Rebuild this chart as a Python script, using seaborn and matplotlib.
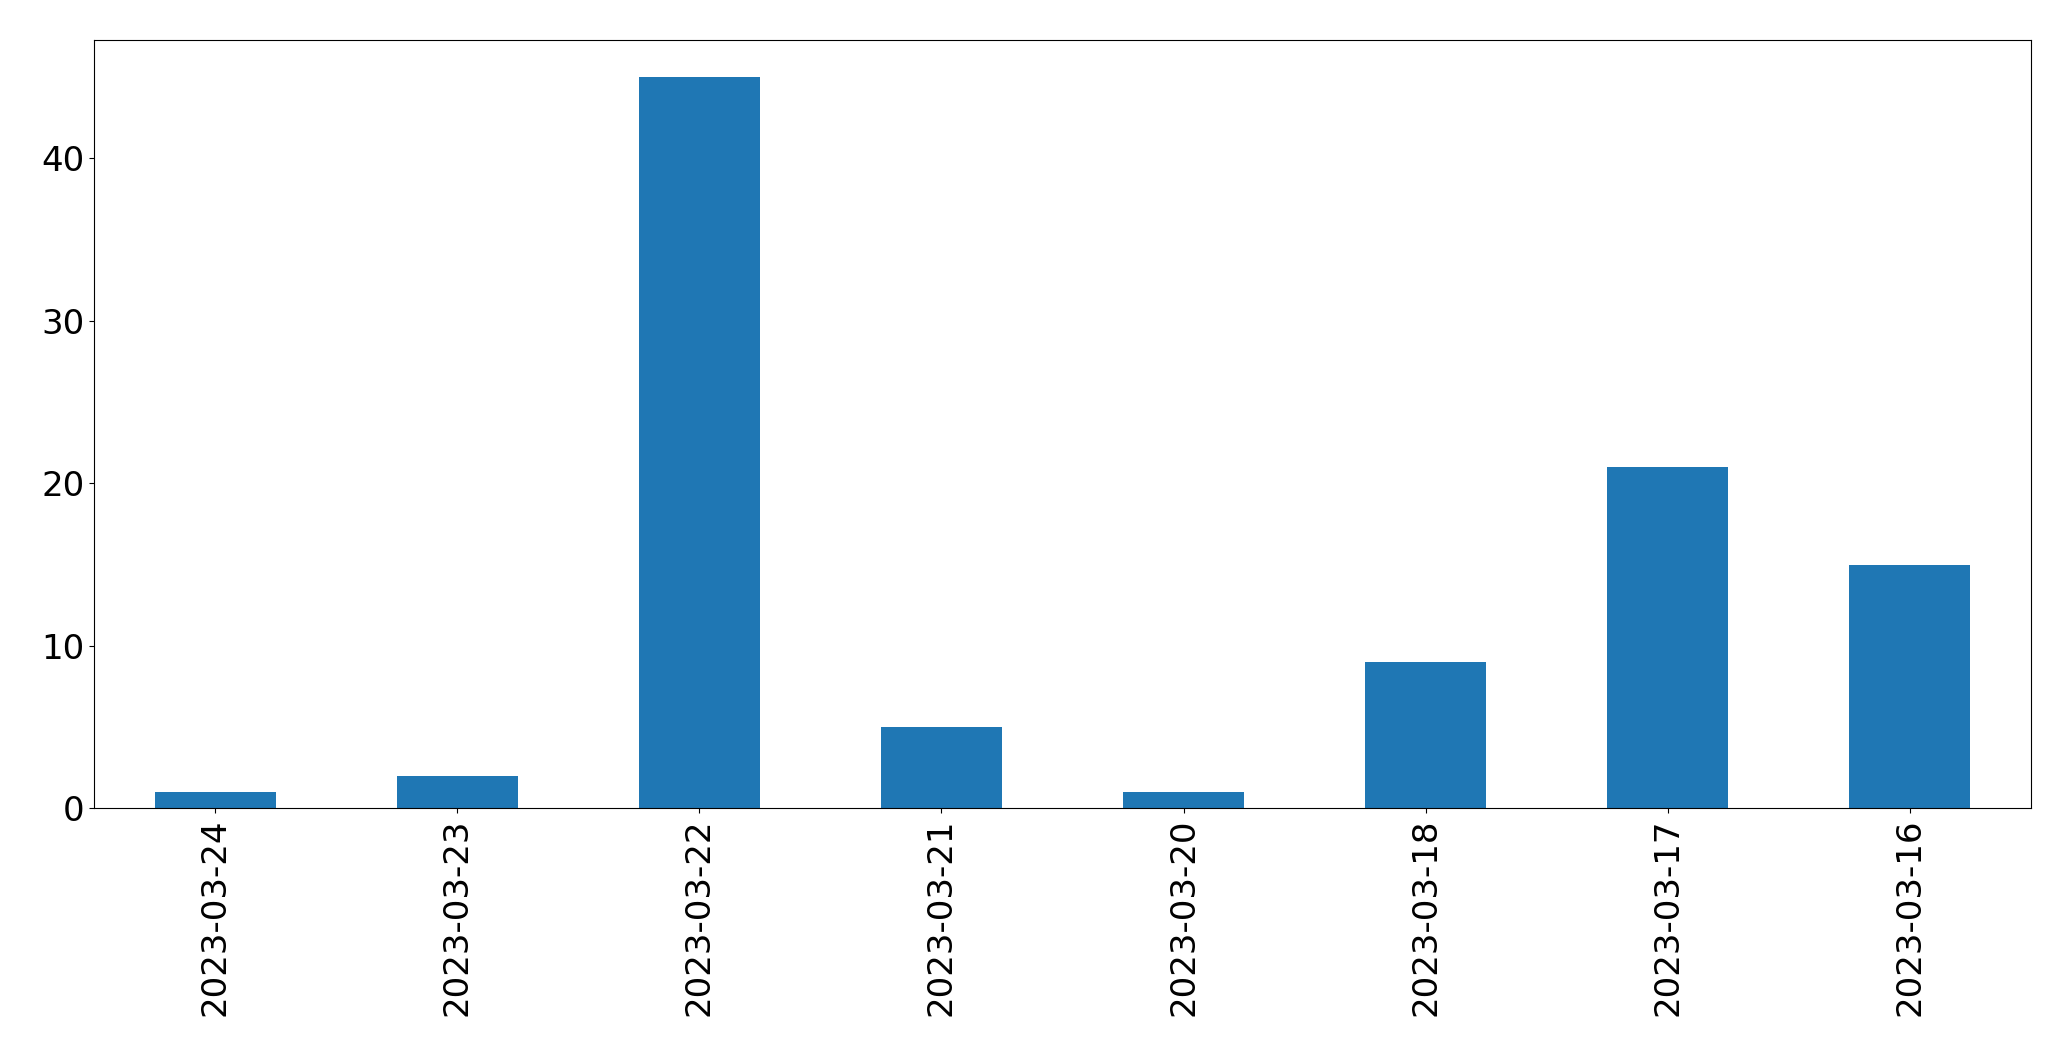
import pandas as pd
import seaborn as sns
import matplotlib
matplotlib.use("Agg")
import matplotlib.pyplot as plt

DATES = ['2023-03-24', '2023-03-23', '2023-03-22', '2023-03-21',
         '2023-03-20', '2023-03-18', '2023-03-17', '2023-03-16']
COUNTS = [1, 2, 45, 5, 1, 9, 21, 15]

df = pd.DataFrame({'date': DATES, 'count': COUNTS})

fig, ax = plt.subplots(figsize=(20.71, 10.61), dpi=100)
sns.barplot(data=df, x='date', y='count', order=DATES, color='#1f77b4',
            saturation=1, width=0.5, ax=ax)
ax.set_xlabel('')
ax.set_ylabel('')
ax.tick_params(axis='x', labelrotation=90, labelsize=24.5)
ax.tick_params(axis='y', labelsize=24.5)
ax.set_xlim(-0.5, len(DATES) - 0.5)
fig.subplots_adjust(left=0.0454, right=0.9807, top=0.962, bottom=0.238)
fig.savefig('out.png', dpi=100)
